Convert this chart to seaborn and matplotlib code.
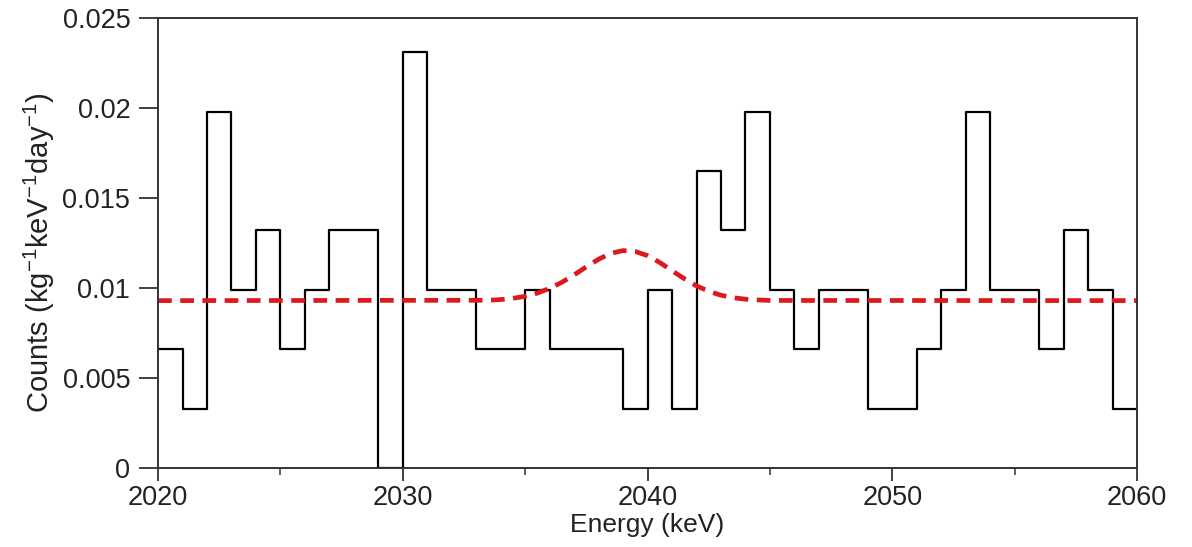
import numpy as np
import pandas as pd
import matplotlib
matplotlib.use('Agg')
import matplotlib.pyplot as plt
import seaborn as sns
from matplotlib.ticker import MultipleLocator, FuncFormatter

# histogram: 1 keV bins from 2020 to 2060 (left edge -> rate)
bin_left = [2020, 2021, 2022, 2023, 2024, 2025, 2026, 2027, 2028, 2029,
            2030, 2031, 2032, 2033, 2034, 2035, 2036, 2037, 2038, 2039,
            2040, 2041, 2042, 2043, 2044, 2045, 2046, 2047, 2048, 2049,
            2050, 2051, 2052, 2053, 2054, 2055, 2056, 2057, 2058, 2059]
rate = [0.0066, 0.0033, 0.0198, 0.0099, 0.0132, 0.0066, 0.0099, 0.0132, 0.0132, 0.0,
        0.0231, 0.0099, 0.0099, 0.0066, 0.0066, 0.0099, 0.0066, 0.0066, 0.0066, 0.0033,
        0.0099, 0.0033, 0.0165, 0.0132, 0.0198, 0.0099, 0.0066, 0.0099, 0.0099, 0.0033,
        0.0033, 0.0066, 0.0099, 0.0198, 0.0099, 0.0099, 0.0066, 0.0132, 0.0099, 0.0033]
bin_edges = bin_left + [2060]

# fitted curve (flat background + peak near 2039 keV)
fit_energy = [2020, 2033.5, 2034, 2034.5, 2035, 2035.5, 2036, 2036.5, 2037, 2037.5,
              2038, 2038.5, 2039, 2039.5, 2040, 2040.5, 2041, 2041.5, 2042, 2042.5,
              2043, 2043.5, 2044, 2044.5, 2045, 2060]
fit_rate = [0.0093, 0.00932, 0.00936, 0.00943, 0.00954, 0.00972, 0.00998, 0.01032, 0.01073, 0.01118,
            0.0116, 0.01193, 0.01208, 0.01203, 0.01180, 0.01142, 0.01096, 0.01052, 0.01012, 0.00982,
            0.00960, 0.00946, 0.00938, 0.00934, 0.00931, 0.0093]

hist_df = pd.DataFrame({'energy': [b + 0.5 for b in bin_left], 'rate': rate})
fit_df = pd.DataFrame({'energy': fit_energy, 'rate': fit_rate})

sns.set_style('ticks')
plt.rcParams['font.family'] = ['Liberation Sans', 'DejaVu Sans']
plt.rcParams['mathtext.default'] = 'regular'

fig, ax = plt.subplots(figsize=(11.92, 5.47), dpi=100)
fig.subplots_adjust(left=0.1326, right=0.9539, top=0.967, bottom=0.1444)

sns.histplot(data=hist_df, x='energy', weights='rate', bins=bin_edges,
             element='step', fill=False, color='black', linewidth=1.6, ax=ax)
sns.lineplot(data=fit_df, x='energy', y='rate', color='#dc1a1e', linewidth=3.4,
             linestyle='--', sort=False, ax=ax)
ax.lines[-1].set_dashes([2.9, 1.8])

ax.set_xlim(2020, 2060)
ax.set_ylim(0, 0.025)
ax.xaxis.set_major_locator(MultipleLocator(10))
ax.xaxis.set_minor_locator(MultipleLocator(5))
ax.yaxis.set_major_locator(MultipleLocator(0.005))
ax.yaxis.set_major_formatter(FuncFormatter(lambda v, p: '%g' % round(v, 4)))

for s in ax.spines.values():
    s.set_visible(True)
    s.set_linewidth(1.4)
    s.set_color('#333333')
ax.tick_params(which='major', direction='out', width=1.3, labelsize=19.5,
               top=False, right=False, color='#333333', labelcolor='#222222')
ax.tick_params(axis='y', which='major', length=14, pad=6)
ax.tick_params(axis='x', which='major', length=9.5, pad=3)
ax.tick_params(axis='x', which='minor', direction='out', length=5, width=1.1,
               top=False, color='#333333')
ax.tick_params(axis='y', which='minor', left=False)

ax.set_xlabel('Energy (keV)', fontsize=19, labelpad=1, color='#222222')
ax.set_ylabel(r'Counts (kg$^{-1}$keV$^{-1}$day$^{-1}$)', fontsize=21, color='#222222')
ax.yaxis.set_label_coords(-0.103, 0.479)

fig.savefig('out.png', dpi=100)
